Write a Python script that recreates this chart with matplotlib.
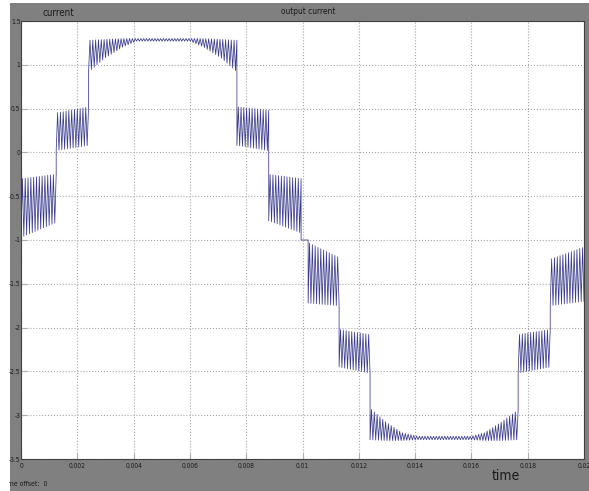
import numpy as np
import matplotlib
matplotlib.use("Agg")
from matplotlib import pyplot as plt
from matplotlib.patches import Rectangle

# ripple envelope: (start, end) times, upper and lower limits
seg_t = [
    [0.0, 0.00125],
    [0.00125, 0.0024],
    [0.0024, 0.003, 0.0036, 0.0041, 0.006, 0.0065, 0.0071, 0.00767],
    [0.00767, 0.0088],
    [0.0088, 0.00995],
    [0.00995, 0.0102],
    [0.0102, 0.0113],
    [0.0113, 0.0124],
    [0.0124, 0.01297, 0.01354, 0.0141, 0.016, 0.01646, 0.01706, 0.01766],
    [0.01766, 0.0188],
    [0.0188, 0.02],
]
seg_hi = [
    [-0.30, -0.25],
    [0.45, 0.52],
    [1.28, 1.29, 1.30, 1.30, 1.30, 1.30, 1.29, 1.28],
    [0.52, 0.48],
    [-0.25, -0.30],
    [-1.0, -1.0],
    [-1.03, -1.20],
    [-2.02, -2.08],
    [-2.92, -3.08, -3.20, -3.24, -3.24, -3.20, -3.08, -2.94],
    [-2.08, -2.02],
    [-1.22, -1.08],
]
seg_lo = [
    [-0.97, -0.80],
    [0.02, 0.08],
    [0.92, 1.08, 1.20, 1.27, 1.27, 1.20, 1.08, 0.92],
    [0.08, 0.02],
    [-0.78, -0.92],
    [-1.0, -1.0],
    [-1.72, -1.75],
    [-2.45, -2.52],
    [-3.28, -3.29, -3.29, -3.28, -3.28, -3.29, -3.29, -3.28],
    [-2.52, -2.45],
    [-1.75, -1.70],
]
carrier_period = 1e-4

xticks = np.arange(0, 0.0201, 0.002)
xtick_labels = ['0', '0.002', '0.004', '0.006', '0.008', '0.01', '0.012',
                '0.014', '0.016', '0.018', '0.02']
yticks = np.arange(1.5, -3.51, -0.5)
ytick_labels = ['1.5', '1', '0.5', '0', '-0.5', '-1', '-1.5', '-2', '-2.5', '-3', '-3.5']

# build the PWM ripple trace from the envelopes
t_all = [0.0]
y_all = [-1.0]
for ts, hs, ls in zip(seg_t, seg_hi, seg_lo):
    n = int(round((ts[-1] - ts[0]) / (carrier_period / 2)))
    tt = np.linspace(ts[0], ts[-1], n + 1)
    hi = np.interp(tt, ts, hs)
    lo = np.interp(tt, ts, ls)
    yy = np.where(np.arange(n + 1) % 2 == 0, lo, hi)
    t_all.extend(tt)
    y_all.extend(yy)

W, H = 589, 491
fig = plt.figure(figsize=(W / 100, H / 100), dpi=100)
fig.patch.set_facecolor('white')
fig.add_artist(Rectangle((10 / W, 0), 1, 1 - 3 / H, transform=fig.transFigure,
                         facecolor='#808080', edgecolor='none', zorder=0))

ax = fig.add_axes([21 / W, 1 - 459 / H, (584 - 21) / W, (459 - 21) / H])
ax.set_facecolor('white')
ax.plot(t_all, y_all, color='#3a3a8c', lw=0.55)

ax.set_xlim(0, 0.02)
ax.set_ylim(-3.5, 1.5)
ax.set_xticks(xticks)
ax.set_xticklabels(xtick_labels)
ax.set_yticks(yticks)
ax.set_yticklabels(ytick_labels)
tick_font = ['Liberation Sans Narrow', 'DejaVu Sans']
for lab in ax.get_xticklabels() + ax.get_yticklabels():
    lab.set_family(tick_font)
    lab.set_fontsize(4.8)
    lab.set_stretch('condensed')
    lab.set_color('#1a1a1a')
ax.tick_params(direction='in', length=4, width=0.8, color='#b0b0b0', pad=3)
ax.tick_params(axis='y', pad=0.5)
ax.grid(True, linestyle=':', color='#a8a8a8', lw=0.8)
for s in ax.spines.values():
    s.set_color('#404040')
    s.set_linewidth(0.8)

fig.text(42 / W, 1 - 13 / H, 'current', fontsize=7, color='#1a1a1a',
         family=tick_font, stretch='condensed', va='center')
fig.text(308 / W, 1 - 12 / H, 'output current', fontsize=6, color='#1a1a1a',
         family=tick_font, stretch='condensed', va='center', ha='center')
fig.text(506 / W, 1 - 476 / H, 'time', fontsize=10, color='#1a1a1a',
         family=tick_font, stretch='condensed', va='center', ha='center')
fig.text(2 / W, 1 - 484 / H, 'Time offset:  0', fontsize=5, color='#1a1a1a',
         family=tick_font, stretch='condensed', va='center')
fig.add_artist(Rectangle((0, 0), 9 / W, 1, transform=fig.transFigure,
                         facecolor='white', edgecolor='none', zorder=10))

fig.savefig('out.png', dpi=100)
